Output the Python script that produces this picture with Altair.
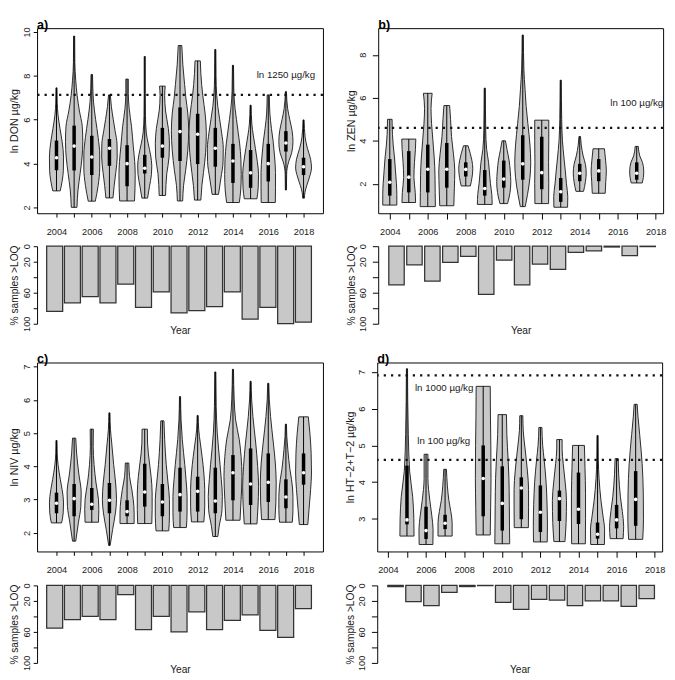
import altair as alt
import pandas as pd

YEARS = list(range(2004, 2019))

# ---------------- a) DON ----------------
DON_YEARS = YEARS
DON_Q1 = [3.70, 3.69, 3.48, 3.90, 2.97, 3.55, 4.27, 4.12, 3.98, 3.86, 3.12, 2.90, 3.19, 4.55, 3.48]
DON_MED = [4.27, 4.80, 4.30, 4.70, 4.00, 3.79, 4.80, 5.46, 5.34, 4.70, 4.12, 3.58, 4.00, 4.94, 3.86]
DON_Q3 = [5.05, 5.73, 5.27, 5.12, 4.84, 4.40, 5.63, 6.56, 6.27, 5.63, 4.90, 4.62, 4.90, 5.48, 4.27]
DON_PROFILES = [
    [(2.76, .21), (3.2, .32), (3.7, .39), (4.3, .40), (5.0, .32), (5.6, .20), (6.2, .09), (6.8, .04), (7.45, .03)],
    [(2.01, .16), (2.8, .22), (3.55, .34), (4.3, .45), (5.0, .49), (5.7, .46), (6.4, .30), (7.1, .17), (7.8, .09), (8.6, .04), (9.81, .03)],
    [(2.29, .20), (3.0, .36), (3.8, .45), (4.4, .45), (5.2, .36), (6.0, .22), (6.8, .10), (7.4, .06), (8.06, .04)],
    [(2.44, .20), (3.0, .27), (3.6, .36), (4.3, .44), (4.9, .43), (5.5, .32), (6.0, .22), (6.6, .11), (7.13, .05)],
    [(2.30, .42), (2.9, .45), (3.5, .46), (4.1, .43), (4.8, .35), (5.7, .25), (6.5, .12), (7.2, .07), (7.85, .07)],
    [(2.43, .16), (2.97, .27), (3.5, .38), (3.9, .40), (4.4, .33), (4.9, .20), (5.4, .09), (6.2, .04), (7.2, .03), (8.88, .03)],
    [(2.55, .18), (3.55, .25), (4.3, .38), (4.9, .40), (5.6, .34), (6.4, .18), (7.1, .13), (7.53, .16)],
    [(2.30, .15), (3.0, .20), (3.7, .32), (4.6, .44), (5.5, .49), (6.3, .44), (7.0, .33), (7.6, .26), (8.5, .16), (9.38, .10)],
    [(2.34, .18), (3.0, .24), (3.6, .33), (4.5, .45), (5.4, .49), (6.3, .42), (7.1, .29), (8.1, .18), (8.68, .15)],
    [(2.60, .18), (3.3, .31), (4.1, .44), (4.7, .45), (5.4, .36), (6.0, .25), (6.6, .14), (7.1, .08), (8.0, .04), (9.2, .03)],
    [(2.23, .36), (2.8, .44), (3.5, .47), (4.2, .45), (4.9, .38), (5.4, .30), (6.0, .20), (6.5, .12), (7.3, .05), (8.48, .03)],
    [(2.40, .36), (2.9, .43), (3.5, .45), (4.1, .38), (4.7, .27), (5.3, .15), (5.8, .07), (6.66, .03)],
    [(2.23, .40), (2.9, .41), (3.6, .41), (4.3, .36), (5.0, .28), (5.6, .18), (6.3, .09), (7.13, .06)],
    [(2.80, .03), (3.5, .04), (3.8, .07), (4.1, .16), (4.5, .33), (5.0, .40), (5.5, .35), (6.0, .22), (6.5, .10), (7.28, .03)],
    [(2.43, .05), (2.7, .08), (3.0, .18), (3.5, .38), (3.8, .45), (4.2, .40), (4.7, .22), (5.2, .09), (5.99, .03)],
]
DON_LOQ = [84, 73, 65, 73, 49, 79, 59, 86, 83, 78, 59, 94, 79, 100, 98]
DON_REFS = [7.13]
DON_REF_TEXT = ["ln 1250 µg/kg"]

# ---------------- b) ZEN ----------------
ZEN_YEARS = [2004, 2005, 2006, 2007, 2008, 2009, 2010, 2011, 2012, 2013, 2014, 2015, 2017]
ZEN_Q1 = [1.45, 1.60, 1.60, 1.82, 2.34, 1.45, 1.82, 2.19, 1.75, 1.16, 2.12, 2.12, 2.19]
ZEN_MED = [2.07, 2.31, 2.68, 2.68, 2.67, 1.78, 2.22, 2.93, 2.52, 1.63, 2.49, 2.60, 2.49]
ZEN_Q3 = [3.15, 3.52, 3.82, 3.90, 3.00, 2.64, 3.08, 4.26, 4.19, 2.27, 2.93, 3.15, 3.00]
ZEN_PROFILES = [
    [(1.01, .37), (1.5, .37), (2.0, .35), (2.6, .30), (3.2, .25), (3.8, .18), (4.3, .14), (5.0, .12)],
    [(1.13, .36), (1.6, .34), (2.3, .27), (3.0, .30), (3.6, .35), (4.08, .37)],
    [(0.94, .40), (1.6, .39), (2.4, .38), (3.2, .34), (4.0, .27), (4.8, .20), (5.5, .17), (6.21, .23)],
    [(0.98, .37), (1.8, .40), (2.6, .42), (3.4, .35), (4.2, .25), (5.0, .20), (5.64, .15)],
    [(1.90, .24), (2.3, .33), (2.7, .37), (3.1, .32), (3.4, .24), (3.77, .12)],
    [(1.04, .39), (1.5, .37), (2.0, .30), (2.6, .24), (3.0, .20), (3.6, .10), (4.5, .05), (6.45, .03)],
    [(1.08, .20), (1.6, .33), (2.1, .37), (2.6, .34), (3.1, .28), (3.6, .17), (4.0, .09)],
    [(0.94, .13), (1.5, .25), (2.3, .38), (3.0, .42), (3.8, .38), (4.8, .27), (5.6, .18), (6.4, .12), (7.3, .06), (8.92, .03)],
    [(1.08, .36), (2.0, .37), (3.0, .36), (4.0, .37), (4.96, .37)],
    [(0.91, .36), (1.4, .37), (2.0, .30), (2.6, .24), (3.2, .17), (4.0, .09), (5.0, .05), (6.82, .03)],
    [(1.65, .20), (2.1, .30), (2.5, .34), (2.9, .30), (3.3, .18), (3.8, .08), (4.2, .04)],
    [(1.56, .34), (2.1, .37), (2.6, .40), (3.1, .36), (3.63, .30)],
    [(2.04, .29), (2.3, .35), (2.6, .37), (3.0, .30), (3.3, .16), (3.74, .08)],
]
ZEN_LOQ = [50, 24, 45, 21, 13, 62, 18, 50, 23, 30, 8, 6, 1, 12, 0.5]
ZEN_REFS = [4.605]
ZEN_REF_TEXT = ["ln 100 µg/kg"]

# ---------------- c) NIV ----------------
NIV_YEARS = YEARS
NIV_Q1 = [2.59, 2.50, 2.69, 2.59, 2.50, 2.79, 2.50, 2.64, 2.64, 2.59, 2.98, 2.84, 2.93, 2.74, 3.45]
NIV_MED = [2.89, 3.03, 2.86, 2.98, 2.64, 3.23, 2.93, 3.15, 3.25, 2.96, 3.81, 3.47, 3.52, 3.08, 3.81]
NIV_Q3 = [3.21, 3.47, 3.35, 3.50, 2.98, 4.08, 3.47, 3.96, 3.69, 3.96, 4.34, 4.54, 4.39, 3.61, 4.39]
NIV_PROFILES = [
    [(2.30, .29), (2.6, .38), (2.9, .40), (3.3, .32), (3.6, .22), (4.05, .09), (4.4, .04), (4.78, .03)],
    [(1.75, .09), (2.3, .24), (2.8, .38), (3.2, .40), (3.8, .26), (4.4, .14), (4.85, .09)],
    [(2.32, .38), (2.7, .40), (3.0, .38), (3.5, .24), (4.05, .13), (4.6, .08), (5.12, .09)],
    [(1.62, .04), (2.1, .18), (2.6, .34), (3.0, .40), (3.5, .35), (4.05, .24), (4.7, .13), (5.1, .06), (5.61, .03)],
    [(2.28, .40), (2.6, .40), (3.0, .35), (3.3, .27), (3.7, .14), (4.1, .10)],
    [(2.28, .40), (2.7, .42), (3.2, .42), (3.7, .36), (4.1, .27), (4.7, .16), (5.12, .15)],
    [(2.06, .36), (2.5, .40), (3.0, .40), (3.5, .32), (4.05, .22), (4.8, .13), (5.37, .09)],
    [(2.16, .36), (2.6, .40), (3.1, .40), (3.6, .34), (4.05, .27), (4.8, .13), (5.4, .06), (6.1, .03)],
    [(2.33, .35), (2.8, .40), (3.3, .40), (3.8, .35), (4.3, .25), (4.7, .15), (5.1, .06), (5.53, .03)],
    [(1.89, .14), (2.2, .22), (2.7, .38), (3.1, .40), (3.6, .34), (4.05, .27), (5.0, .11), (5.8, .05), (6.84, .03)],
    [(2.38, .40), (3.0, .46), (3.7, .51), (4.3, .46), (4.8, .36), (5.4, .15), (6.0, .07), (6.92, .03)],
    [(2.27, .36), (2.8, .42), (3.4, .45), (4.0, .40), (4.7, .29), (5.5, .13), (6.0, .06), (6.56, .03)],
    [(2.40, .38), (2.9, .43), (3.5, .45), (4.1, .40), (4.7, .29), (5.5, .13), (6.0, .06), (6.50, .03)],
    [(2.32, .36), (2.7, .40), (3.1, .40), (3.6, .32), (3.9, .23), (4.5, .11), (4.9, .05), (5.27, .03)],
    [(2.25, .24), (2.7, .31), (3.3, .40), (3.8, .45), (4.4, .43), (5.0, .36), (5.49, .27)],
]
NIV_LOQ = [55, 44, 40, 44, 12, 57, 40, 60, 34, 57, 45, 38, 58, 67, 30]

# ---------------- d) HT-2 + T-2 ----------------
HT2_YEARS = [2005, 2006, 2007, 2009, 2010, 2011, 2012, 2013, 2014, 2015, 2016, 2017]
HT2_Q1 = [2.85, 2.45, 2.72, 3.07, 2.68, 2.99, 2.64, 2.94, 2.86, 2.46, 2.74, 2.81]
HT2_MED = [2.97, 2.68, 2.88, 4.10, 3.42, 3.84, 3.18, 3.55, 3.26, 2.58, 2.97, 3.53]
HT2_Q3 = [4.45, 3.33, 3.11, 5.00, 4.43, 4.13, 3.91, 3.77, 4.26, 2.90, 3.38, 4.30]
HT2_PROFILES = [
    [(2.53, .37), (3.0, .36), (3.6, .30), (4.3, .14), (5.3, .07), (6.2, .04), (7.09, .03)],
    [(2.30, .36), (2.7, .37), (3.1, .30), (3.5, .20), (4.1, .10), (4.76, .10)],
    [(2.53, .37), (2.9, .37), (3.2, .30), (3.5, .20), (3.9, .12), (4.35, .07)],
    [(2.56, .37), (3.3, .39), (4.1, .41), (5.0, .40), (5.8, .38), (6.61, .37)],
    [(2.32, .39), (2.8, .38), (3.4, .37), (4.1, .35), (4.6, .31), (5.3, .24), (5.84, .22)],
    [(2.76, .37), (3.3, .38), (3.8, .38), (4.3, .32), (4.9, .20), (5.4, .10), (5.81, .08)],
    [(2.37, .36), (2.8, .37), (3.4, .35), (4.0, .30), (4.6, .20), (5.0, .12), (5.49, .08)],
    [(2.38, .29), (2.9, .35), (3.5, .37), (4.0, .30), (4.5, .20), (4.9, .14), (5.16, .14)],
    [(2.32, .36), (3.0, .37), (3.7, .37), (4.4, .34), (5.0, .31)],
    [(2.30, .36), (2.7, .37), (3.1, .28), (3.5, .18), (4.1, .08), (4.6, .04), (5.27, .03)],
    [(2.46, .34), (2.8, .37), (3.2, .30), (3.6, .20), (4.2, .11), (4.64, .08)],
    [(2.44, .37), (3.0, .41), (3.7, .40), (4.5, .34), (5.3, .21), (5.8, .12), (6.12, .08)],
]
HT2_LOQ = [1.5, 21, 26, 9, 1.5, 0.3, 22, 31, 18, 19, 26, 20, 20, 27, 17]
HT2_REFS = [6.908, 4.605]
HT2_REF_TEXT = ["ln 1000 µg/kg", "ln 100 µg/kg"]

# ---------------- styling ----------------
FONT = "Liberation Sans"
FILL = "#c8c8c8"
EDGE = "#262626"
INK = "#1a1a1a"
AX_LEFT = dict(ts=4, lp=2, tp=2)     # compact axes for the left column
AX_RIGHT = dict(ts=6, lp=5, tp=1)    # right column


def violin_chart(years, q1, med, q3, profiles, refs, ref_text, label_pos, label,
                 xdom, ydom, yticks, ytitle, width, height, ax):
    rows = []
    for yr, prof in zip(years, profiles):
        for v, hw in prof:
            rows.append({"year": yr, "v": v, "hw": hw})
    prof_df = pd.DataFrame(rows)
    stat_df = pd.DataFrame({
        "year": years, "q1": q1, "med": med, "q3": q3,
        "lo": [p[0][0] for p in profiles], "hi": [p[-1][0] for p in profiles],
    })
    xs = alt.Scale(domain=xdom, nice=False, zero=False)
    ys = alt.Scale(domain=ydom, nice=False, zero=False)
    xaxis = alt.Axis(values=YEARS, format="d",
                     labelExpr="datum.value % 2 == 0 ? datum.label : ''",
                     tickSize=ax["ts"], labelPadding=14 - ax["ts"], domain=False, grid=False,
                     labelOverlap=False, labelFlush=False, title=None)
    yaxis = alt.Axis(values=yticks, format="d", labelAngle=270, labelAlign="center",
                     labelBaseline="bottom", tickSize=ax["ts"], labelPadding=ax["lp"],
                     titlePadding=ax["tp"], domain=False, grid=False, labelOverlap=False,
                     labelFlush=False, title=ytitle, titleFontSize=11)

    def X(f):
        return alt.X(f, scale=xs, axis=xaxis, stack=None)

    def Y(f):
        return alt.Y(f, scale=ys, axis=yaxis)

    area = alt.Chart(prof_df).transform_calculate(
        xl="datum.year - datum.hw", xr="datum.year + datum.hw"
    ).mark_area(orient="horizontal", interpolate="monotone", fill=FILL,
                stroke=EDGE, strokeWidth=1, fillOpacity=1).encode(
        y=Y("v:Q"), x=X("xl:Q"), x2="xr:Q", detail="year:N",
    )
    whisk = alt.Chart(stat_df).mark_rule(color="black", strokeWidth=1).encode(
        x=X("year:Q"), y=Y("lo:Q"), y2="hi:Q")
    box = alt.Chart(stat_df).mark_rule(color="black", strokeWidth=3.6).encode(
        x=X("year:Q"), y=Y("q1:Q"), y2="q3:Q")
    dot = alt.Chart(stat_df).mark_point(filled=True, color="white", opacity=1,
                                        size=14, strokeWidth=0).encode(
        x=X("year:Q"), y=Y("med:Q"))
    layers = [area, whisk, box, dot]
    if refs:
        ref_df = pd.DataFrame({"val": refs, "text": ref_text,
                               "lx": [p[0] for p in label_pos], "ly": [p[1] for p in label_pos]})
        rule = alt.Chart(ref_df).mark_rule(color="#111111", strokeWidth=2.3,
                                           strokeDash=[2.3, 5.2], strokeCap="butt").encode(
            y=Y("val:Q"))
        txt = alt.Chart(ref_df).mark_text(font=FONT, fontSize=10, color=INK).encode(
            x=X("lx:Q"), y=Y("ly:Q"), text="text:N")
        layers += [rule, txt]
    tag = alt.Chart(pd.DataFrame({"t": [label]})).mark_text(
        font=FONT, fontSize=13, fontWeight="bold", color="black",
        align="left", baseline="bottom").encode(
        x=alt.value(0), y=alt.value(4), text="t:N")
    layers.append(tag)
    return alt.layer(*layers).properties(
        width=width, height=height,
        view=alt.ViewBackground(stroke="black", strokeWidth=1),
    )


def bar_chart(pct, xdom, half, width, height, ax):
    df = pd.DataFrame({"year": YEARS, "pct": pct})
    return alt.Chart(df).transform_calculate(
        b0=f"datum.year - {half}", b1=f"datum.year + {half}"
    ).mark_bar(fill=FILL, stroke="#333333", strokeWidth=1.3).encode(
        x=alt.X("b0:Q", scale=alt.Scale(domain=xdom, nice=False, zero=False),
                axis=alt.Axis(title="Year", labels=False, ticks=False, domain=False,
                              grid=False, titlePadding=2, titleFontSize=10.5)),
        x2="b1:Q",
        y=alt.Y("pct:Q", scale=alt.Scale(domain=[0, 100], reverse=True, nice=False, zero=False),
                axis=alt.Axis(values=[0, 20, 40, 60, 80, 100], format="d",
                              labelExpr="datum.value == 40 || datum.value == 80 ? '' : datum.label",
                              labelAngle=270, labelAlign="center", labelBaseline="bottom",
                              tickSize=ax["ts"], labelPadding=ax["lp"],
                              titlePadding=ax["tp"] + 0.5, titleFontSize=10.5,
                              domain=True, grid=False, labelOverlap=False, labelFlush=False,
                              title="% samples >LOQ")),
        y2=alt.datum(0),
    ).properties(width=width, height=height)


WL, WR = 295, 294
va = violin_chart(DON_YEARS, DON_Q1, DON_MED, DON_Q3, DON_PROFILES, DON_REFS, DON_REF_TEXT,
                  [(2017.0, 8.02)], "a)", [2002.9, 2019.1], [1.74, 10.17], [2, 4, 6, 8, 10],
                  "ln DON µg/kg", WL, 191, AX_LEFT)
ba = bar_chart(DON_LOQ, [2003.01, 2019.10], 0.45, WL, 80, AX_LEFT)

vb = violin_chart(ZEN_YEARS, ZEN_Q1, ZEN_MED, ZEN_Q3, ZEN_PROFILES, ZEN_REFS, ZEN_REF_TEXT,
                  [(2017.0, 5.74)], "b)", [2003.39, 2018.39], [0.63, 9.24], [2, 4, 6, 8],
                  "ln ZEN µg/kg", WR, 191, AX_RIGHT)
bb = bar_chart(ZEN_LOQ, [2002.98, 2018.86], 0.43, WR, 80, AX_RIGHT)

vc = violin_chart(NIV_YEARS, NIV_Q1, NIV_MED, NIV_Q3, NIV_PROFILES, [], [], [],
                  "c)", [2002.9, 2019.1], [1.44, 7.125], [2, 3, 4, 5, 6, 7],
                  "ln NIV µg/kg", WL, 195, AX_LEFT)
bc = bar_chart(NIV_LOQ, [2003.01, 2019.10], 0.45, WL, 80, AX_LEFT)

vd = violin_chart(HT2_YEARS, HT2_Q1, HT2_MED, HT2_Q3, HT2_PROFILES, HT2_REFS, HT2_REF_TEXT,
                  [(2006.95, 6.56), (2006.93, 5.12)], "d)", [2003.44, 2018.39], [2.11, 7.26],
                  [3, 4, 5, 6, 7], "ln HT−2+T−2 µg/kg", WR, 195, AX_RIGHT)
bd = bar_chart(HT2_LOQ, [2002.98, 2018.86], 0.43, WR, 80, AX_RIGHT)

pa = alt.vconcat(va, ba, spacing=34, bounds="flush")
pb = alt.vconcat(vb, bb, spacing=34, bounds="flush")
pc = alt.vconcat(vc, bc, spacing=35, bounds="flush")
pd_ = alt.vconcat(vd, bd, spacing=35, bounds="flush")

row1 = alt.hconcat(pa, pb, spacing=21)
row2 = alt.hconcat(pc, pd_, spacing=21)

chart = alt.vconcat(row1, row2, spacing=17).properties(
    padding=0, background="white"
).configure(font=FONT).configure_view(stroke=None).configure_axis(
    labelFont=FONT, titleFont=FONT, labelFontSize=9.5, titleFontSize=11,
    titleFontWeight="normal", labelColor=INK, titleColor=INK,
    tickColor="black", domainColor="black", tickWidth=1, domainWidth=1,
)

chart.save("out.html", embed_options={"renderer": "svg", "actions": False})
